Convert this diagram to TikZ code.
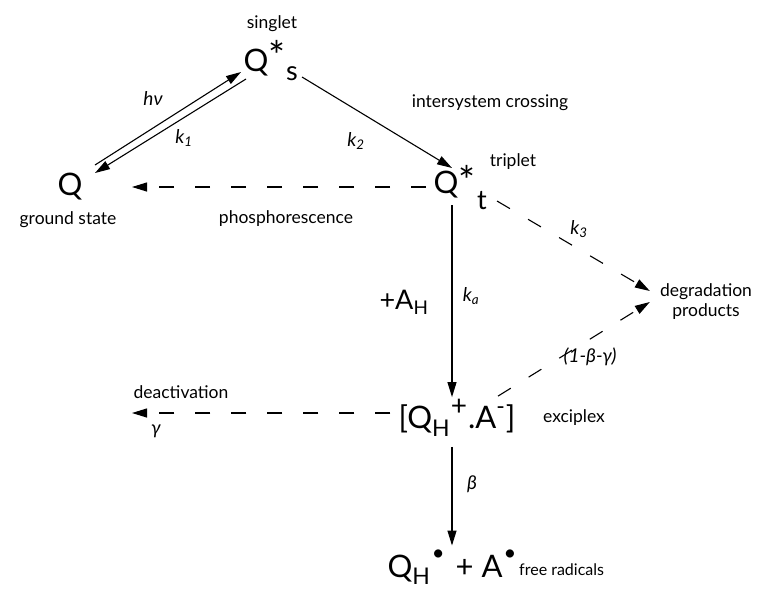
\documentclass[tikz,border=0pt]{standalone}
\usepackage{fontspec}
\setmainfont{Lato}
\usetikzlibrary{arrows.meta,calc}
\begin{document}
\begin{tikzpicture}[x=1pt,y=-1pt,
  big/.style={font=\fontsize{31}{33}\selectfont, inner sep=0pt},
  mid/.style={font=\fontsize{27}{29}\selectfont, inner sep=0pt},
  star/.style={font=\fontsize{40}{42}\selectfont, inner sep=0pt, anchor=north},
  lab/.style={font=\fontsize{17.5}{20}\selectfont, inner sep=0pt},
  small/.style={font=\fontsize{16}{18}\selectfont, inner sep=0pt},
  ital/.style={font=\fontsize{19}{21}\selectfont\itshape, inner sep=0pt},
  arr/.style={-{Triangle[length=15pt,width=9pt]}, line width=1.1pt},
  darr/.style={arr, dash pattern=on 15pt off 21pt}]
\useasboundingbox (0,0) rectangle (773,590);

% singlet excited state
\node[lab] (singlet) at (272,24) {singlet};
\node[big] (qs) at (256,63) {Q};
\node[star] (qsstar) at (277,40) {*};
\node[mid] (qss) at (292,74) {s};

% ground state
\node[big] (q0) at (70,187) {Q};
\node[lab] (ground) at (68,220) {ground state};

% triplet
\node[big] (qt) at (446,185) {Q};
\node[star] (qtstar) at (467,165) {*};
\node[mid] (qtt) at (482,201) {t};
\node[lab] (triplet) at (513,162) {triplet};

% degradation
\node[lab, align=center] (deg) at (706,302) {degradation\\products};

% exciplex
\node[big] (exc) at (457,418) {[Q\raisebox{-0.28em}{\fontsize{23}{23}\selectfont H}\kern1pt\raisebox{0.40em}{\fontsize{28}{28}\selectfont +}\kern1pt.A\raisebox{0.45em}{\fontsize{23}{23}\selectfont -}\kern1pt]};
\node[lab] (exclab) at (574,418) {exciplex};

% free radicals
\node[big] (rad) at (452,567) {Q\raisebox{-0.22em}{\fontsize{23}{23}\selectfont H}\kern2pt\raisebox{0.55em}{\fontsize{22}{22}\selectfont •}\kern11pt+\kern8ptA\kern1pt\raisebox{0.55em}{\fontsize{22}{22}\selectfont •}};
\node[small, anchor=west] (radlab) at (519,570) {free radicals};

% labels
\node[ital] (hnu) at (153,98) {hν};
\node[ital] (k1) at (184,138) {k\textsubscript{1}};
\node[lab] (isc) at (490,103) {intersystem crossing};
\node[ital] (k2) at (356,141) {k\textsubscript{2}};
\node[lab] (phos) at (286,219) {phosphorescence};
\node[ital] (k3) at (579,229) {k\textsubscript{3}};
\node[mid] (ah) at (404,302) {+A\textsubscript{H}};
\node[ital] (ka) at (471,296) {k\textsubscript{a}};
\node[ital] (bg) at (590,357) {(1-β-γ)};
\node[lab] (deact) at (181,392) {deactivation};
\node[ital] (gam) at (156,431) {γ};
\node[ital] (bet) at (472,484) {β};

% connectors
\draw[arr] ($(q0)+(25,-22)$) -- ($(qs)+(-15,9)$);
\draw[arr] ($(qs)+(-10,16)$) -- ($(q0)+(25,-14)$);
\draw[arr] ($(qss)+(10,3)$) -- ($(qt)+(6,-17)$);
\draw[darr] ($(qt)+(-20,2)$) -- ($(q0)+(62,0)$);
\draw[darr] ($(qtt)+(15,0)$) -- ($(deg.west)+(-10,-11)$);
\draw[arr] ($(qt)+(6,20)$) -- ($(exc.north)+(-5,-2)$);
\draw[darr] ($(exc.north)+(41,-3)$) -- ($(deg.west)+(-10,0)$);
\draw[darr] ($(exc.west)+(-8,-5)$) -- ($(q0)+(62,226)$);
\draw[arr] ($(exc.south)+(-5,10)$) -- ($(rad.north)+(0,-4)$);
\end{tikzpicture}
\end{document}
